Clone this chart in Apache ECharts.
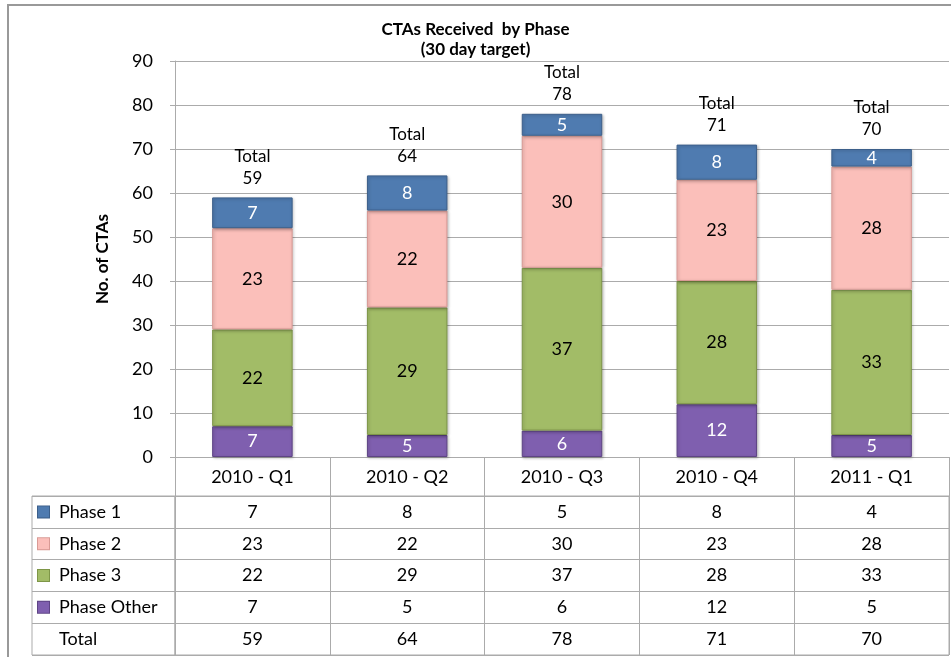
<!DOCTYPE html>
<html>
<head>
<meta charset="utf-8">
<script src="https://cdn.jsdelivr.net/npm/echarts@6/dist/echarts.min.js"></script>
<style>
  html, body { margin: 0; padding: 0; background: #fff; }
  #frame { position: absolute; left: 7px; top: 4px; width: 944px; height: 653px;
           border-top: 2px solid #999; border-left: 2px solid #999; box-sizing: border-box; }
  #main { position: absolute; left: 0; top: 0; width: 951px; height: 657px; }
</style>
</head>
<body>
<div id="frame"></div>
<div id="main"></div>
<script>
var categories = ['2010 - Q1', '2010 - Q2', '2010 - Q3', '2010 - Q4', '2011 - Q1'];
var phase1 = [7, 8, 5, 8, 4];
var phase2 = [23, 22, 30, 23, 28];
var phase3 = [22, 29, 37, 28, 33];
var phaseOther = [7, 5, 6, 12, 5];
var totals = [59, 64, 78, 71, 70];
var rowNames = ['Phase 1', 'Phase 2', 'Phase 3', 'Phase Other', 'Total'];
var yMin = 0, yMax = 90, yStep = 10;

var colors = ['#4F7BB0', '#FBBFBA', '#A2BC67', '#7F5FAF'];
var borders = ['#3C5F8A', '#D99A95', '#7E9648', '#5E4485'];
var FONT = 'Lato';
var GRID = '#ABABAB';

var dom = document.getElementById('main');
var myChart = echarts.init(dom);

function barSeries(name, data, idx, txt) {
    return {
        name: name,
        type: 'bar',
        stack: 'cta',
        xAxisIndex: 0,
        yAxisIndex: 0,
        barWidth: '52%',
        data: data,
        itemStyle: {
            color: colors[idx],
            borderColor: borders[idx],
            borderWidth: 1,
            shadowColor: 'rgba(0,0,0,0.25)',
            shadowBlur: 3,
            shadowOffsetX: 1,
            shadowOffsetY: 1
        },
        label: {
            show: true,
            position: 'inside',
            color: txt,
            fontFamily: FONT,
            fontSize: 18
        }
    };
}

// table cells: one point per (category,row)
var rows = [phase1, phase2, phase3, phaseOther, totals];
var cells = [];
rows.forEach(function (arr, r) {
    arr.forEach(function (v, i) { cells.push([i, r, v]); });
});

var rich = { g: { width: 10 }, b: { width: 11, height: 11 } };
colors.forEach(function (c, i) {
    rich['k' + i] = { width: 11, height: 11, backgroundColor: c, borderColor: borders[i], borderWidth: 1 };
});

option = {
    backgroundColor: 'transparent',
    textStyle: { fontFamily: FONT },
    title: {
        text: 'CTAs Received  by Phase\n(30 day target)',
        left: 'center',
        top: 15,
        textStyle: { fontFamily: FONT, fontSize: 17, fontWeight: 'bold', color: '#000', lineHeight: 20 }
    },
    grid: [
        { left: 175, right: 2, top: 61, bottom: 200 },
        { left: 175, right: 2, top: 496, bottom: 2, show: true, borderColor: GRID, borderWidth: 1 },
        { left: 32, right: 776, top: 496, bottom: 2, show: true, borderColor: GRID, borderWidth: 1 }
    ],
    xAxis: [
        {
            gridIndex: 0,
            type: 'category',
            data: categories,
            axisLine: { show: true, lineStyle: { color: GRID } },
            axisTick: { show: true, interval: 0, length: 39, lineStyle: { color: GRID } },
            axisLabel: { interval: 0, margin: 11, color: '#000', fontFamily: FONT, fontSize: 18 }
        },
        {
            gridIndex: 1,
            type: 'category',
            data: categories,
            axisLine: { show: false },
            axisTick: { show: false },
            axisLabel: { show: false },
            splitLine: { show: true, interval: 0, lineStyle: { color: GRID } }
        },
        { gridIndex: 2, type: 'value', show: false }
    ],
    yAxis: [
        {
            gridIndex: 0,
            type: 'value',
            min: yMin,
            max: yMax,
            interval: yStep,
            name: 'No. of CTAs',
            nameLocation: 'middle',
            nameGap: 64,
            nameTextStyle: { fontFamily: FONT, fontSize: 17, fontWeight: 'bold', color: '#000' },
            axisLine: { show: true, lineStyle: { color: GRID } },
            axisTick: { show: true, length: 5, lineStyle: { color: GRID } },
            axisLabel: { margin: 22, color: '#000', fontFamily: FONT, fontSize: 18 },
            splitLine: { show: true, lineStyle: { color: GRID } }
        },
        {
            gridIndex: 1,
            type: 'category',
            data: rowNames,
            inverse: true,
            axisLine: { show: false },
            axisTick: { show: false },
            axisLabel: { show: false },
            splitLine: { show: true, interval: 0, lineStyle: { color: GRID } }
        },
        {
            gridIndex: 2,
            type: 'category',
            data: rowNames,
            inverse: true,
            axisLine: { show: false },
            axisTick: { show: false },
            splitLine: { show: true, interval: 0, lineStyle: { color: GRID } },
            axisLabel: {
                inside: true,
                align: 'left',
                margin: 6,
                interval: 0,
                color: '#000',
                fontFamily: FONT,
                fontSize: 18,
                rich: rich,
                formatter: function (v, i) {
                    return (i < 4 ? '{k' + i + '|}' : '{b|}') + '{g|}' + v;
                }
            }
        }
    ],
    series: [
        barSeries('Phase Other', phaseOther, 3, '#fff'),
        barSeries('Phase 3', phase3, 2, '#000'),
        barSeries('Phase 2', phase2, 1, '#000'),
        barSeries('Phase 1', phase1, 0, '#fff'),
        {
            name: 'Total',
            type: 'scatter',
            xAxisIndex: 0,
            yAxisIndex: 0,
            data: totals,
            symbolSize: 0,
            itemStyle: { color: '#000', opacity: 1 },
            label: {
                show: true,
                position: 'top',
                distance: 8,
                color: '#000',
                fontFamily: FONT,
                fontSize: 17,
                lineHeight: 22,
                formatter: function (p) { return 'Total\n' + p.value; }
            },
            z: 5
        },
        {
            name: 'table',
            type: 'scatter',
            xAxisIndex: 1,
            yAxisIndex: 1,
            data: cells,
            symbolSize: 0,
            itemStyle: { color: '#000', opacity: 1 },
            label: {
                show: true,
                position: 'inside',
                color: '#000',
                fontFamily: FONT,
                fontSize: 18,
                formatter: function (p) { return String(p.value[2]); }
            }
        }
    ]
};

if (option && typeof option === "object") {
    myChart.setOption(option, true);
}
</script>
</body>
</html>
